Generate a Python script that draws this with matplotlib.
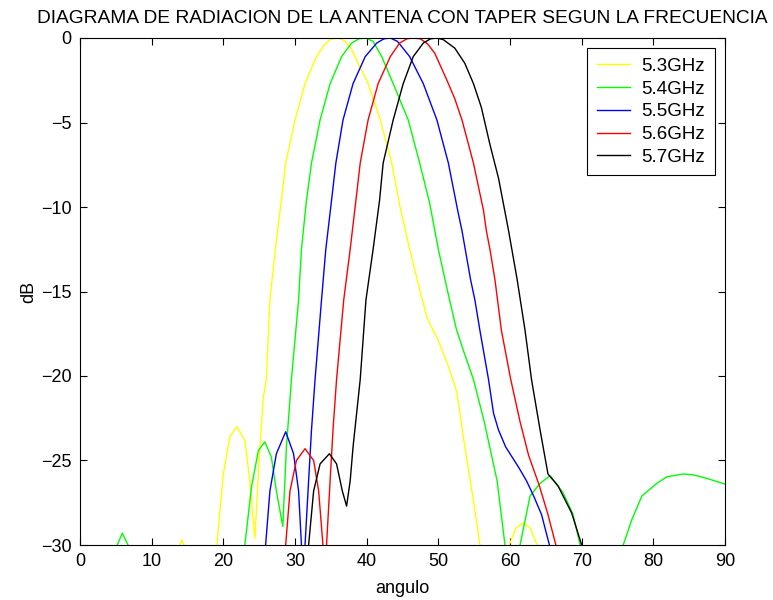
import matplotlib
matplotlib.use('Agg')
import matplotlib.pyplot as plt

ang_53 = [0, 13.5, 14.2, 15.0, 19.0, 19.1, 20.0, 20.9, 21.9, 23.0, 23.7, 24.4, 25.1, 25.6, 26.0,
          26.5, 27.4, 28.1, 28.7, 30.0, 31.4, 33.0, 34.0, 34.9, 36.0, 36.9, 37.8, 38.8, 40.2,
          41.9, 43.5, 44.6, 46.0, 47.4, 48.4, 48.8, 50.0, 51.2, 52.1, 52.6, 53.7, 54.8, 55.8,
          56.3, 59.6, 59.9, 60.8, 61.8, 62.8, 63.8, 64.2, 90]
db_53 = [-40, -30.5, -29.7, -30.5, -31, -30, -25.8, -23.6, -23.0, -23.8, -26.2, -29.6, -24.2, -21.2, -20.2,
         -15.5, -11.95, -9.6, -7.4, -4.85, -2.7, -1.1, -0.45, -0.08, 0, -0.15, -0.6, -1.5, -2.7,
         -4.85, -7.4, -9.9, -12.5, -14.9, -16.5, -16.9, -17.9, -19.2, -20.3, -21.0, -24.2, -27.1, -30,
         -35, -31, -30, -29.0, -28.7, -29.0, -30, -31, -40]

ang_54 = [0, 5.0, 5.2, 5.9, 6.7, 7.0, 22.9, 23.0, 23.95, 24.9, 25.8, 26.7, 27.4, 28.3, 28.8, 29.3,
          29.5, 30.5, 30.9, 31.6, 32.3, 33.5, 34.9, 36.5, 37.9, 38.9, 39.9, 40.9, 42.1, 43.7, 45.8, 47.4,
          48.8, 50.0, 51.3, 52.5, 53.5, 54.9, 56.4, 58.2, 59.3, 59.8, 61.3, 61.4, 62.8, 64.2, 65.6,
          67.4, 68.8, 69.8, 70.0, 75.6, 75.8, 77.0, 78.4, 80.5, 81.9, 84.2, 85.6, 87.4, 90]
db_54 = [-40, -31, -30, -29.3, -30, -31, -31, -30, -26.5, -24.4, -23.9, -24.8, -26.8, -28.9, -24.2, -21.4,
         -20.2, -15.5, -12.5, -9.6, -7.4, -4.85, -2.7, -1.1, -0.3, -0.05, 0, -0.2, -1.1, -2.7, -4.85, -7.4,
         -9.8, -12.5, -15.0, -17.2, -18.5, -20.2, -22.7, -26.2, -30, -35, -31, -30, -27.1, -26.35, -25.9,
         -26.9, -28.2, -30, -31, -31, -30, -28.5, -27.1, -26.35, -25.96, -25.8, -25.85, -26.05, -26.4]

ang_55 = [0, 25.8, 25.9, 26.5, 27.4, 28.7, 29.8, 30.5, 30.9, 31.1, 31.3, 31.4, 31.9, 32.3, 32.8,
          33.7, 34.3, 35.1, 35.7, 36.7, 38.1, 39.8, 41.4, 42.4, 43.3, 44.3, 46.0, 47.9, 49.8, 51.4, 52.7,
          53.3, 54.5, 55.1, 55.8, 57.0, 57.7, 58.4, 59.4, 61.2, 62.3, 63.3, 64.4, 65.5, 65.8, 90]
db_55 = [-40, -31, -30, -26.8, -24.6, -23.3, -24.6, -26.8, -30, -32, -32, -30, -26.2, -23.2, -20.2,
         -15.5, -12.5, -9.6, -7.4, -4.85, -2.7, -1.1, -0.3, -0.05, 0, -0.2, -1.1, -2.7, -4.85, -7.4, -10.2,
         -11.4, -14.3, -15.5, -17.3, -20.2, -22.2, -23.2, -24.2, -25.4, -26.2, -27.1, -28.2, -30, -33, -40]

ang_56 = [0, 28.6, 28.7, 29.3, 30.2, 31.4, 32.6, 33.3, 33.9, 34.1, 34.3, 34.4, 34.9, 35.3, 35.8,
          36.8, 37.7, 38.5, 39.1, 40.2, 41.6, 43.3, 44.6, 45.6, 46.5, 47.5, 48.5, 49.5, 51.2, 52.3, 53.3,
          54.9, 56.3, 56.7, 57.2, 57.9, 58.8, 60.1, 61.4, 62.6, 64.1, 65.3, 66.4, 66.6, 90]
db_56 = [-40, -31, -30, -26.8, -25.0, -24.3, -25.0, -26.8, -30, -32, -32, -30, -26.2, -23.2, -20.2,
         -15.5, -12.5, -9.6, -7.4, -4.85, -2.7, -1.1, -0.3, -0.05, 0, -0.05, -0.35, -0.9, -2.5, -3.6, -4.85,
         -7.4, -10.2, -11.4, -12.5, -14.3, -17.3, -20.2, -22.7, -24.7, -26.5, -28.2, -30, -33, -40]

ang_57 = [0, 31.8, 31.9, 32.6, 33.5, 34.8, 35.8, 36.6, 37.2, 37.7, 38.1, 38.6, 39.1, 39.9, 40.9,
          41.8, 42.3, 43.7, 45.1, 46.5, 47.9, 48.9, 49.8, 50.7, 52.3, 53.7, 54.9, 56.0, 57.2, 58.4, 59.8,
          61.0, 62.1, 63.0, 64.2, 65.3, 66.7, 68.6, 70.0, 70.2, 90]
db_57 = [-40, -31, -30, -26.8, -25.2, -24.6, -25.2, -26.8, -27.7, -26.2, -24.2, -22.2, -20.2, -15.5, -12.5,
         -9.6, -7.4, -4.85, -2.7, -1.1, -0.3, -0.05, 0, -0.1, -0.6, -1.5, -2.7, -4.1, -6.3, -8.3, -11.4,
         -14.3, -17.3, -20.2, -23.2, -25.8, -26.5, -28.1, -30, -33, -40]

etiquetas = ['5.3GHz', '5.4GHz', '5.5GHz', '5.6GHz', '5.7GHz']
colores = ['#ffff00', '#00ff00', '#0000ff', '#ff0000', '#000000']
series = [(ang_53, db_53), (ang_54, db_54), (ang_55, db_55), (ang_56, db_56), (ang_57, db_57)]

plt.rcParams['font.family'] = ['Liberation Sans', 'DejaVu Sans']

fig = plt.figure(figsize=(7.73, 6.0), dpi=100, facecolor='white')
ax = fig.add_axes([80 / 773, 55 / 600, 645 / 773, 507 / 600])

for (x, y), lab, c in zip(series, etiquetas, colores):
    ax.plot(x, y, color=c, lw=1.0, label=lab)

ax.set_xlim(0, 90)
ax.set_ylim(-30, 0)
ax.set_xticks(range(0, 91, 10))
ax.set_yticks(range(-30, 1, 5))
ax.tick_params(direction='in', length=5, width=0.8, top=True, right=True,
               labelsize=13, pad=6)
for s in ax.spines.values():
    s.set_linewidth(0.8)

ax.set_title('DIAGRAMA DE RADIACION DE LA ANTENA CON TAPER SEGUN LA FRECUENCIA',
             fontsize=13.8, pad=11)
ax.set_xlabel('angulo', fontsize=13, labelpad=7)
ax.set_ylabel('dB', fontsize=13, labelpad=3)

leg = ax.legend(loc='upper right', fontsize=13.5, fancybox=False, framealpha=1,
                edgecolor='black', handlelength=1.8, borderaxespad=0.55,
                labelspacing=0.3, handletextpad=0.6, borderpad=0.5)
leg.get_frame().set_linewidth(0.8)

fig.savefig('out.png', dpi=100, facecolor='white')
